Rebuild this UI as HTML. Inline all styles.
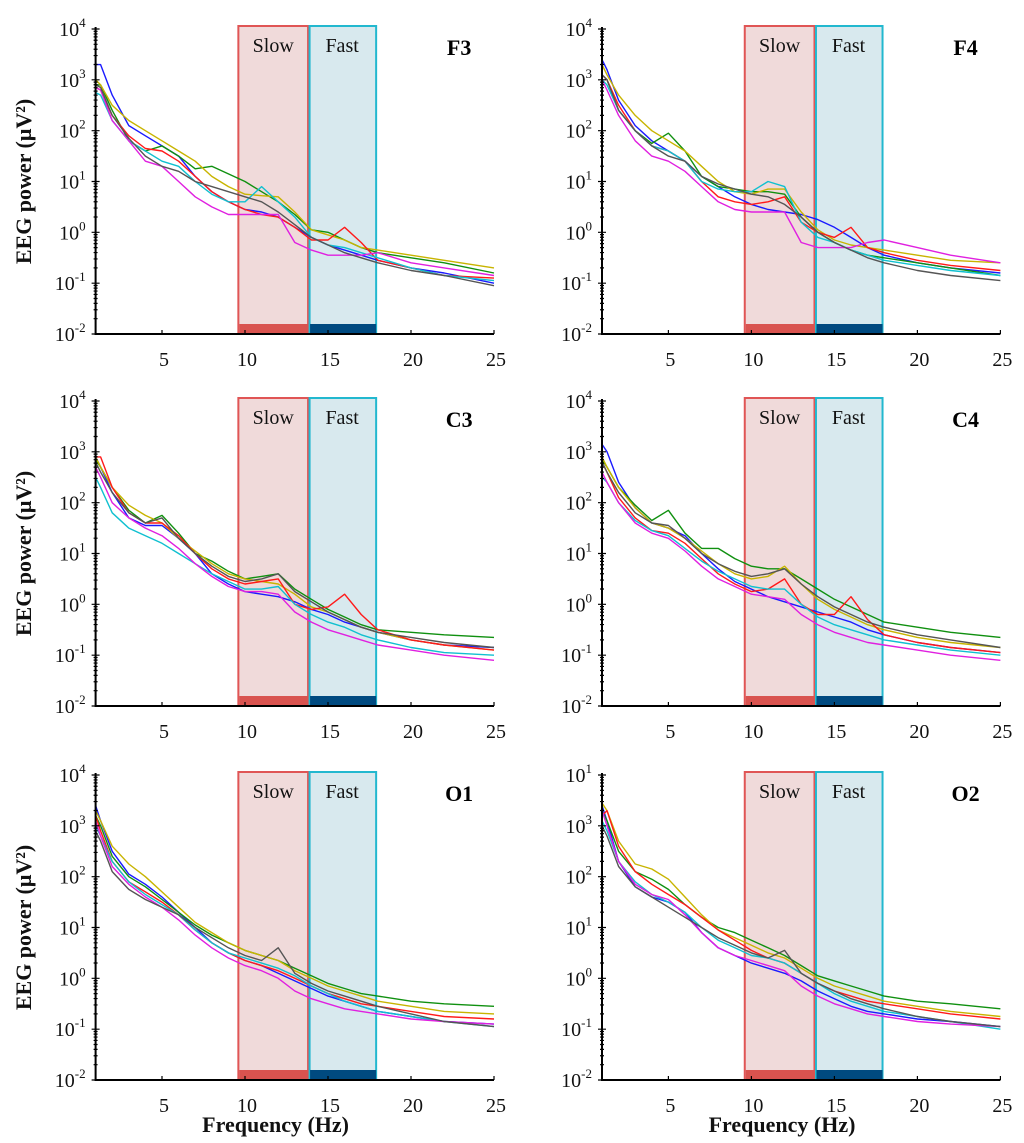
<!DOCTYPE html>
<html><head><meta charset="utf-8"><style>
body{margin:0;background:#fff;}
svg{display:block;font-family:"Liberation Serif",serif;}
</style></head><body>
<svg id="chart" width="1024" height="1143" viewBox="0 0 1024 1143" xmlns="http://www.w3.org/2000/svg"></svg>
<script>
const freqs=[1,1.3,2,3,4,5,6,7,8,9,10,11,12,13,14,15,16,17,18,20,22,25];
const xTicks=[5,10,15,20,25];
const yTicks=[4,3,2,1,0,-1,-2];
const seriesColors=["#1a1aff","#109010","#c8b400","#ff1a1a","#10c0d0","#e020e0","#555555"];
const seriesNames=["blue","green","yellow","red","cyan","magenta","gray"];
const slowBand=[9.6,13.8];
const fastBand=[13.8,17.9];
const panelNames=["F3","F4","C3","C4","O1","O2"];
// log10 power values per series
const F3_blue=[3.3,3.3,2.7,2.1,1.9,1.7,1.5,1.1,0.8,0.6,0.45,0.4,0.3,0.1,-0.1,-0.25,-0.35,-0.45,-0.55,-0.7,-0.8,-1.0];
const F3_green=[2.9,2.9,2.4,1.8,1.6,1.7,1.5,1.25,1.3,1.15,1.0,0.8,0.6,0.35,0.05,0.0,-0.15,-0.3,-0.4,-0.5,-0.6,-0.8];
const F3_yellow=[3.0,2.9,2.5,2.2,2.0,1.8,1.6,1.4,1.1,0.9,0.75,0.72,0.7,0.4,0.05,-0.05,-0.15,-0.3,-0.35,-0.45,-0.55,-0.7];
const F3_red=[2.85,2.8,2.3,1.9,1.65,1.6,1.4,1.1,0.8,0.6,0.45,0.35,0.3,0.1,-0.15,-0.15,0.1,-0.2,-0.55,-0.7,-0.85,-0.9];
const F3_cyan=[2.75,2.7,2.2,1.8,1.6,1.4,1.3,1.0,0.75,0.6,0.6,0.9,0.6,0.3,-0.1,-0.25,-0.3,-0.4,-0.5,-0.7,-0.85,-0.95];
const F3_magenta=[2.85,2.8,2.2,1.8,1.4,1.3,1.0,0.7,0.5,0.35,0.35,0.35,0.35,-0.2,-0.35,-0.45,-0.45,-0.45,-0.4,-0.6,-0.7,-0.85];
const F3_gray=[2.9,2.85,2.3,1.85,1.5,1.3,1.2,1.0,0.9,0.8,0.7,0.6,0.4,0.15,-0.1,-0.25,-0.4,-0.5,-0.6,-0.75,-0.85,-1.05];
const F4_blue=[3.4,3.2,2.6,2.1,1.8,1.6,1.4,1.1,0.9,0.7,0.55,0.45,0.4,0.35,0.25,0.1,-0.1,-0.3,-0.45,-0.6,-0.7,-0.8];
const F4_green=[3.1,3.0,2.4,2.0,1.75,1.95,1.6,1.1,0.9,0.85,0.8,0.8,0.75,0.3,0.0,-0.2,-0.35,-0.45,-0.5,-0.6,-0.7,-0.85];
const F4_yellow=[3.3,3.1,2.7,2.3,2.0,1.8,1.6,1.3,1.0,0.8,0.75,0.85,0.85,0.4,0.05,-0.15,-0.25,-0.3,-0.35,-0.45,-0.55,-0.6];
const F4_red=[3.1,3.0,2.5,2.0,1.7,1.6,1.4,1.0,0.7,0.6,0.55,0.6,0.7,0.2,0.0,-0.1,0.1,-0.3,-0.4,-0.55,-0.65,-0.75];
const F4_cyan=[3.0,2.9,2.4,2.0,1.7,1.6,1.4,1.0,0.85,0.8,0.8,1.0,0.9,0.2,-0.1,-0.2,-0.35,-0.45,-0.55,-0.65,-0.75,-0.85];
const F4_magenta=[3.0,2.8,2.3,1.8,1.5,1.4,1.2,0.9,0.6,0.45,0.4,0.4,0.4,-0.2,-0.3,-0.3,-0.3,-0.2,-0.15,-0.3,-0.45,-0.6];
const F4_gray=[3.1,3.0,2.4,2.0,1.7,1.5,1.4,1.1,0.95,0.85,0.75,0.7,0.55,0.3,0.0,-0.2,-0.35,-0.5,-0.6,-0.75,-0.85,-0.95];
const C3_blue=[2.9,2.7,2.2,1.7,1.55,1.55,1.3,1.0,0.6,0.4,0.25,0.2,0.15,0.05,-0.1,-0.2,-0.35,-0.45,-0.55,-0.7,-0.8,-0.85];
const C3_green=[2.85,2.7,2.3,1.85,1.6,1.75,1.4,1.0,0.85,0.65,0.5,0.55,0.6,0.3,0.1,-0.1,-0.25,-0.4,-0.5,-0.55,-0.6,-0.65];
const C3_yellow=[2.9,2.7,2.3,1.95,1.75,1.6,1.3,1.05,0.8,0.6,0.5,0.45,0.4,0.2,-0.05,-0.15,-0.3,-0.45,-0.55,-0.7,-0.8,-0.9];
const C3_red=[2.9,2.9,2.3,1.8,1.6,1.6,1.35,1.0,0.7,0.5,0.4,0.45,0.5,0.0,-0.1,-0.05,0.2,-0.2,-0.5,-0.7,-0.8,-0.9];
const C3_cyan=[2.5,2.3,1.8,1.5,1.35,1.2,1.0,0.8,0.6,0.45,0.3,0.3,0.35,0.0,-0.2,-0.35,-0.45,-0.6,-0.7,-0.85,-0.95,-1.0];
const C3_magenta=[2.7,2.5,2.0,1.7,1.5,1.35,1.1,0.8,0.55,0.35,0.25,0.25,0.2,-0.15,-0.35,-0.5,-0.6,-0.7,-0.8,-0.9,-1.0,-1.1];
const C3_gray=[2.8,2.6,2.2,1.8,1.6,1.7,1.3,1.0,0.75,0.55,0.45,0.5,0.6,0.25,0.05,-0.15,-0.3,-0.45,-0.55,-0.65,-0.75,-0.85];
const C4_blue=[3.15,3.0,2.4,1.9,1.6,1.5,1.35,1.0,0.7,0.45,0.3,0.15,0.05,-0.05,-0.15,-0.25,-0.35,-0.5,-0.6,-0.75,-0.85,-0.95];
const C4_green=[2.85,2.7,2.3,1.95,1.65,1.85,1.4,1.1,1.1,0.9,0.75,0.7,0.7,0.5,0.3,0.1,-0.05,-0.2,-0.35,-0.45,-0.55,-0.65];
const C4_yellow=[2.9,2.7,2.3,1.9,1.6,1.5,1.3,1.05,0.8,0.6,0.5,0.55,0.75,0.4,0.1,-0.1,-0.25,-0.4,-0.5,-0.65,-0.75,-0.85];
const C4_red=[2.8,2.6,2.1,1.7,1.45,1.4,1.2,0.9,0.6,0.4,0.25,0.3,0.5,0.0,-0.2,-0.2,0.15,-0.3,-0.6,-0.75,-0.85,-0.95];
const C4_cyan=[2.5,2.4,2.0,1.65,1.45,1.35,1.1,0.85,0.65,0.5,0.35,0.3,0.3,0.0,-0.25,-0.4,-0.5,-0.6,-0.7,-0.8,-0.9,-1.0];
const C4_magenta=[2.6,2.4,2.0,1.6,1.4,1.3,1.05,0.75,0.5,0.35,0.2,0.15,0.1,-0.2,-0.4,-0.55,-0.65,-0.75,-0.8,-0.9,-1.0,-1.1];
const C4_gray=[2.8,2.6,2.2,1.8,1.6,1.55,1.3,1.0,0.8,0.65,0.55,0.6,0.7,0.4,0.15,-0.05,-0.2,-0.35,-0.45,-0.6,-0.7,-0.85];
const O1_blue=[3.4,3.1,2.5,2.05,1.85,1.6,1.3,1.0,0.7,0.5,0.35,0.25,0.1,-0.05,-0.2,-0.35,-0.45,-0.55,-0.65,-0.75,-0.85,-0.9];
const O1_green=[3.2,3.0,2.4,2.0,1.8,1.55,1.3,1.05,0.85,0.7,0.55,0.45,0.35,0.2,0.05,-0.1,-0.2,-0.3,-0.35,-0.45,-0.5,-0.55];
const O1_yellow=[3.3,3.1,2.6,2.25,2.0,1.7,1.4,1.1,0.9,0.7,0.55,0.45,0.35,0.15,0.0,-0.15,-0.25,-0.35,-0.45,-0.55,-0.65,-0.7];
const O1_red=[3.2,2.9,2.3,1.9,1.7,1.5,1.25,0.95,0.7,0.5,0.35,0.25,0.15,0.0,-0.15,-0.3,-0.4,-0.5,-0.55,-0.65,-0.75,-0.8];
const O1_cyan=[3.0,2.8,2.3,1.9,1.65,1.45,1.25,0.95,0.7,0.5,0.4,0.3,0.2,0.05,-0.15,-0.3,-0.45,-0.55,-0.65,-0.75,-0.85,-0.95];
const O1_magenta=[3.1,2.8,2.2,1.85,1.6,1.4,1.15,0.85,0.6,0.4,0.25,0.15,0.0,-0.25,-0.4,-0.5,-0.6,-0.65,-0.7,-0.8,-0.85,-0.9];
const O1_gray=[2.9,2.7,2.1,1.75,1.55,1.4,1.25,1.0,0.8,0.6,0.45,0.35,0.6,0.1,-0.1,-0.25,-0.35,-0.45,-0.55,-0.7,-0.85,-0.95];
const O2_blue=[3.4,3.1,2.3,1.8,1.6,1.5,1.3,0.9,0.6,0.45,0.3,0.2,0.1,-0.05,-0.25,-0.4,-0.55,-0.65,-0.7,-0.8,-0.85,-0.95];
const O2_green=[3.3,3.1,2.5,2.1,1.95,1.75,1.45,1.2,1.0,0.9,0.75,0.6,0.45,0.25,0.05,-0.05,-0.15,-0.25,-0.35,-0.45,-0.5,-0.6];
const O2_yellow=[3.45,3.3,2.7,2.25,2.15,1.95,1.6,1.25,0.95,0.8,0.65,0.5,0.4,0.2,0.0,-0.15,-0.25,-0.35,-0.45,-0.55,-0.65,-0.75];
const O2_red=[3.2,3.3,2.6,2.1,1.85,1.65,1.45,1.2,0.95,0.75,0.55,0.4,0.3,0.1,-0.1,-0.25,-0.35,-0.45,-0.5,-0.6,-0.7,-0.8];
const O2_cyan=[3.1,2.9,2.3,1.9,1.65,1.5,1.3,1.0,0.75,0.6,0.45,0.4,0.3,0.1,-0.1,-0.3,-0.45,-0.55,-0.65,-0.75,-0.85,-1.0];
const O2_magenta=[3.3,3.0,2.3,1.85,1.65,1.55,1.25,0.9,0.6,0.45,0.35,0.25,0.15,-0.15,-0.35,-0.5,-0.6,-0.7,-0.75,-0.85,-0.9,-0.95];
const O2_gray=[3.0,2.8,2.2,1.8,1.6,1.4,1.2,1.0,0.8,0.65,0.5,0.4,0.55,0.1,-0.1,-0.25,-0.4,-0.5,-0.6,-0.75,-0.85,-0.95];
const panelData=[
 [F3_blue,F3_green,F3_yellow,F3_red,F3_cyan,F3_magenta,F3_gray],
 [F4_blue,F4_green,F4_yellow,F4_red,F4_cyan,F4_magenta,F4_gray],
 [C3_blue,C3_green,C3_yellow,C3_red,C3_cyan,C3_magenta,C3_gray],
 [C4_blue,C4_green,C4_yellow,C4_red,C4_cyan,C4_magenta,C4_gray],
 [O1_blue,O1_green,O1_yellow,O1_red,O1_cyan,O1_magenta,O1_gray],
 [O2_blue,O2_green,O2_yellow,O2_red,O2_cyan,O2_magenta,O2_gray]];

const NS="http://www.w3.org/2000/svg";
const svg=document.getElementById('chart');
function mk(tag,attrs,parent){const e=document.createElementNS(NS,tag);for(const k in attrs)e.setAttribute(k,attrs[k]);(parent||svg).appendChild(e);return e;}
const colX=[95.6,602];
const rowTop=[29,401,775];
const PH=305, PXU=16.6;

panelNames.forEach((name,pi)=>{
  const col=pi%2,row=Math.floor(pi/2);
  const x0=colX[col],top=rowTop[row],bot=top+PH;
  const xs=f=>x0+(f-1)*PXU;
  const ys=v=>top+(4-v)*PH/6;
  const g=mk('g',{});
  
  
  const sb=mk('rect',{x:xs(slowBand[0]),y:top-3,width:xs(slowBand[1])-xs(slowBand[0]),height:bot-top+3,fill:'#f0dada',stroke:'#e05555','stroke-width':2},g);
  
  
  const fb=mk('rect',{x:xs(fastBand[0])+1.5,y:top-3,width:xs(fastBand[1])-xs(fastBand[0])-1.5,height:bot-top+3,fill:'#d8e9ee',stroke:'#22b8cf','stroke-width':2},g);
  
  
  const sbar=mk('rect',{x:xs(slowBand[0])+1,y:bot-10,width:xs(slowBand[1])-xs(slowBand[0])-1,height:10,fill:'#d9534f'},g);
  
  
  const fbar=mk('rect',{x:xs(fastBand[0])+2,y:bot-10,width:xs(fastBand[1])-xs(fastBand[0])-2,height:10,fill:'#004a80'},g);
  
  
  const st=mk('text',{x:(xs(slowBand[0])+xs(slowBand[1]))/2,y:top+23,'font-size':20,'text-anchor':'middle',fill:'#111'},g);
  st.textContent='Slow';
  
  
  const ft=mk('text',{x:(xs(fastBand[0])+xs(fastBand[1]))/2,y:top+23,'font-size':20,'text-anchor':'middle',fill:'#111'},g);
  ft.textContent='Fast';
  
  
  panelData[pi].forEach((vals,si)=>{
    const d=vals.map((v,i)=>(i?'L':'M')+xs(freqs[i]).toFixed(1)+','+ys(v).toFixed(1)).join('');
    const p=mk('path',{d:d,fill:'none',stroke:seriesColors[si],'stroke-width':1.4,'stroke-linejoin':'round'},g);
    
    
  });
  const ax=mk('path',{d:`M${x0},${top-2}V${bot}H${xs(25)}`,fill:'none',stroke:'#000','stroke-width':2},g);
  
  
  let mt='';
  for(let dcd=-2;dcd<4;dcd++){for(let m=1;m<10;m++){const y=ys(dcd+Math.log10(m));mt+=`M${x0-(m==1?4:2)},${y}H${x0+(m==1?4:2)}`;}}
  mt+=`M${x0-4},${ys(4)}H${x0+4}`;
  xTicks.forEach(t=>{mt+=`M${xs(t)},${bot}V${bot-4}`;});
  const tk=mk('path',{d:mt,stroke:'#000','stroke-width':1.2,fill:'none'},g);
  
  
  yTicks.forEach(v=>{
    const t=mk('text',{x:x0-10,y:ys(v)+7,'font-size':20,'text-anchor':'end',fill:'#111'},g);
    t.textContent='10';
    const s=mk('tspan',{dy:-9,'font-size':13},t);
    s.textContent=(pi==5&&v==4)?'1':String(v);
    
    
  });
  xTicks.forEach(v=>{
    const t=mk('text',{x:xs(v)+2,y:bot+32,'font-size':20,'text-anchor':'middle',fill:'#111'},g);
    t.textContent=v;
    
    
  });
  const pl=mk('text',{x:xs(22.9),y:top+26,'font-size':22,'font-weight':'bold','text-anchor':'middle',fill:'#000'},g);
  pl.textContent=name;
  
  
  if(col==0){
    const yl=mk('text',{transform:`translate(31,${(top+bot)/2}) rotate(-90)`,'font-size':22,'font-weight':'bold','text-anchor':'middle',fill:'#111'},g);
    yl.textContent='EEG power (μV²)';
    
    
  }
  if(row==2){
    const xl=mk('text',{x:x0+180,y:1132,'font-size':22,'font-weight':'bold','text-anchor':'middle',fill:'#111'},g);
    xl.textContent='Frequency (Hz)';
    
    
  }
});
</script>
</body></html>
